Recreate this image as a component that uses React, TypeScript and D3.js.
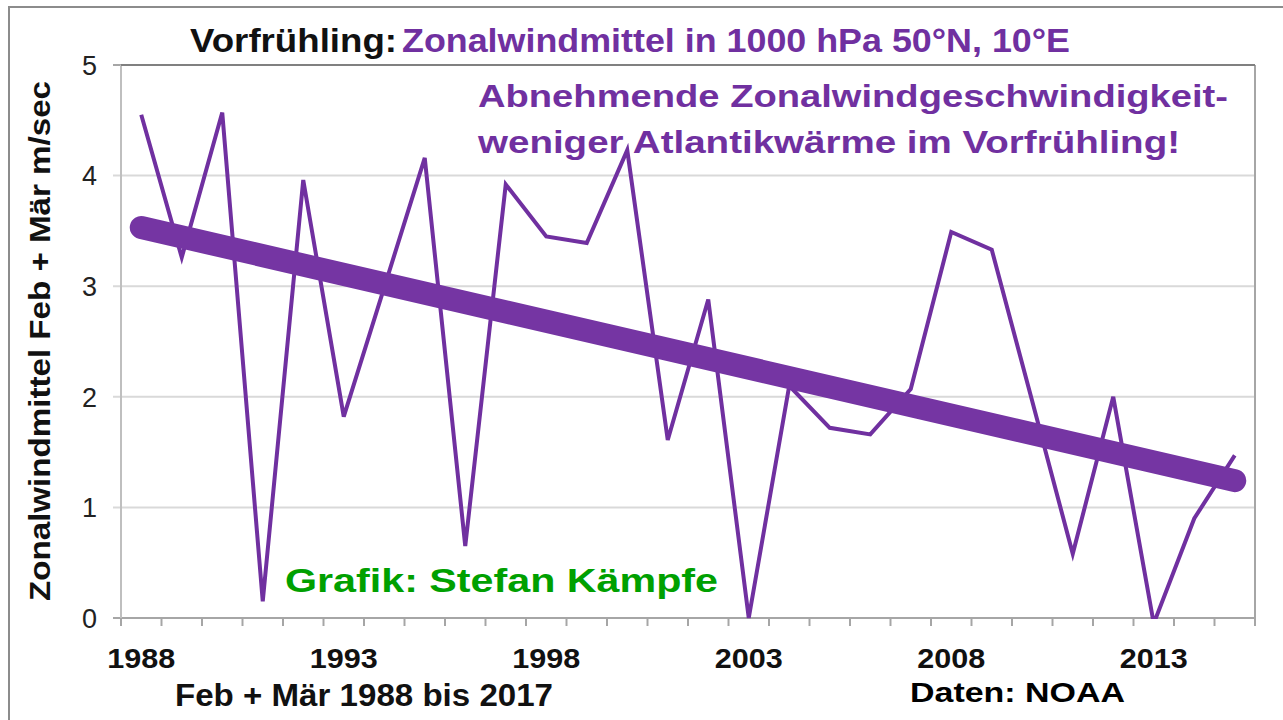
import React, { useEffect } from "react";
import * as d3 from "d3";

const years = d3.range(1988, 2016).map(String);
const wind = [
  4.55, 3.26, 4.57, 0.15, 3.96, 1.82, 2.99, 4.16, 0.65, 3.92, 3.45, 3.39, 4.23, 1.61,
  2.88, 0.0, 2.1, 1.72, 1.66, 2.07, 3.49, 3.33, 1.96, 0.58, 2.0, -0.05, 0.9, 1.47,
];
const yTicks = [0, 1, 2, 3, 4, 5];
const labelYears = ["1988", "1993", "1998", "2003", "2008", "2013"];

const W = 1283;
const H = 720;
const plot = { left: 121, right: 1255, top: 65, bottom: 618 };
const purple = "#7030a0";
const font = "'Liberation Sans', Arial, sans-serif";

export default function App() {
  useEffect(() => {
    document.body.style.margin = "0";
  }, []);

  const x = d3.scaleBand().domain(years).range([plot.left, plot.right]);
  const y = d3.scaleLinear().domain([0, 5]).range([plot.bottom, plot.top]);
  const cx = (yr: string) => (x(yr) as number) + x.bandwidth() / 2;

  const line = d3
    .line<number>()
    .x((_, i) => cx(years[i]))
    .y((d) => y(d));

  // linear trend (least squares)
  const idx = wind.map((_, i) => i);
  const mx = d3.mean(idx) as number;
  const my = d3.mean(wind) as number;
  const slope =
    d3.sum(idx, (i) => (i - mx) * (wind[i] - my)) / d3.sum(idx, (i) => (i - mx) ** 2);
  const t0 = my - slope * mx;
  const tEnd = t0 + slope * (wind.length - 1);

  const ticksX = d3.range(years.length + 1).map((i) => plot.left + i * x.step());

  return (
    <svg width={W} height={H} style={{ display: "block", background: "#fff" }}>
      {/* outer frame */}
      <rect x={9} y={7} width={W} height={H} fill="none" stroke="#8c8c8c" strokeWidth={2} />

      {/* grid */}
      {yTicks.map((t) => (
        <line key={t} x1={plot.left - 8} x2={plot.right} y1={y(t)} y2={y(t)}
          stroke={t === 0 || t === 5 ? "#a6a6a6" : "#d9d9d9"} strokeWidth={2} />
      ))}
      <line x1={plot.left} x2={plot.left} y1={plot.top} y2={plot.bottom} stroke="#bfbfbf" strokeWidth={2} />
      <line x1={plot.right} x2={plot.right} y1={plot.top} y2={plot.bottom} stroke="#a6a6a6" strokeWidth={2} />
      <line x1={plot.left} x2={plot.right} y1={plot.top} y2={plot.top} stroke="#808080" strokeWidth={2} />
      {ticksX.map((tx, i) => (
        <line key={i} x1={tx} x2={tx} y1={plot.bottom} y2={plot.bottom + 8} stroke="#a6a6a6" strokeWidth={2} />
      ))}

      {/* y tick labels */}
      {yTicks.map((t) => (
        <text key={t} x={97} y={y(t)} dy="0.36em" textAnchor="end" fontFamily={font}
          fontSize={27} fill="#222">{t}</text>
      ))}
      {/* x tick labels */}
      {labelYears.map((yr) => (
        <text key={yr} x={cx(yr)} y={668} textAnchor="middle" fontFamily={font}
          fontSize={28} fontWeight="bold" fill="#111" textLength={68} lengthAdjust="spacingAndGlyphs">{yr}</text>
      ))}

      <clipPath id="plotclip">
        <rect x={plot.left} y={plot.top - 10} width={plot.right - plot.left + 20} height={plot.bottom - plot.top + 11} />
      </clipPath>
      <g clipPath="url(#plotclip)">
        <path d={line(wind) as string} fill="none" stroke={purple} strokeWidth={4} strokeLinejoin="miter" />
      </g>
      <line x1={cx(years[0])} x2={cx(years[years.length - 1])} y1={y(t0)} y2={y(tEnd)}
        stroke="#7535a3" strokeWidth={23} strokeLinecap="round" />

      {/* titles */}
      <text x={190} y={52} fontFamily={font} fontSize={33} fontWeight="bold" fill="#111"
        textLength={207} lengthAdjust="spacingAndGlyphs">Vorfrühling:</text>
      <text x={402} y={52} fontFamily={font} fontSize={33} fontWeight="bold" fill={purple}
        textLength={668} lengthAdjust="spacingAndGlyphs">Zonalwindmittel in 1000 hPa 50°N, 10°E</text>
      <text x={478} y={107} fontFamily={font} fontSize={32} fontWeight="bold" fill={purple}
        textLength={750} lengthAdjust="spacingAndGlyphs">Abnehmende Zonalwindgeschwindigkeit-</text>
      <text x={478} y={153} fontFamily={font} fontSize={32} fontWeight="bold" fill={purple}
        textLength={702} lengthAdjust="spacingAndGlyphs">weniger Atlantikwärme im Vorfrühling!</text>
      <text x={285} y={592} fontFamily={font} fontSize={34} fontWeight="bold" fill="#00a000"
        textLength={433} lengthAdjust="spacingAndGlyphs">Grafik: Stefan Kämpfe</text>
      <text x={175} y={706} fontFamily={font} fontSize={31} fontWeight="bold" fill="#111"
        textLength={378} lengthAdjust="spacingAndGlyphs">Feb + Mär 1988 bis 2017</text>
      <text x={910} y={702} fontFamily={font} fontSize={28} fontWeight="bold" fill="#000"
        textLength={215} lengthAdjust="spacingAndGlyphs">Daten: NOAA</text>
      <text transform="translate(50,341) rotate(-90)" textAnchor="middle" fontFamily={font}
        fontSize={30} fontWeight="bold" fill="#111" textLength={520} lengthAdjust="spacingAndGlyphs">
        Zonalwindmittel  Feb + Mär m/sec
      </text>
    </svg>
  );
}
